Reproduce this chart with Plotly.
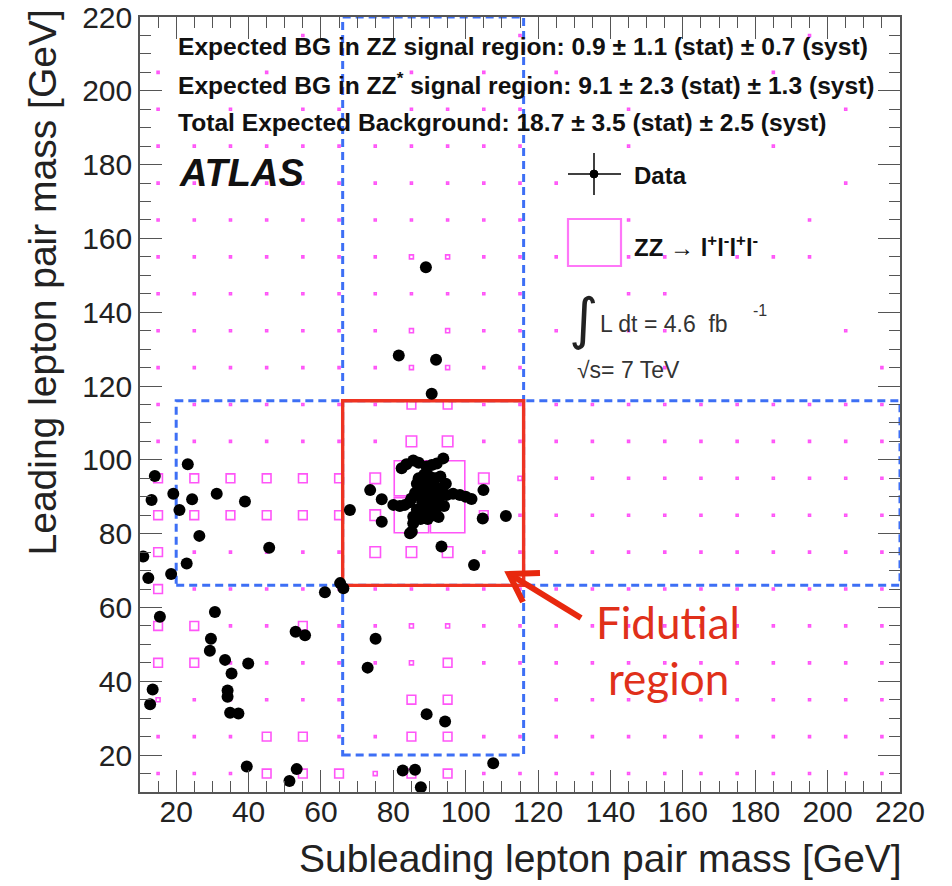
import plotly.graph_objects as go

# ---------------------------------------------------------------------------
# ZZ -> l+l-l+l- candidates: subleading (m34) vs leading (m12) pair mass, GeV
# ---------------------------------------------------------------------------
m34 = [89.0, 81.5, 91.8, 90.6,
       23.2, 14.1, 13.2, 19.2, 24.4, 20.9, 31.2, 39.0, 26.4, 45.7, 10.9, 22.9,
       12.3, 18.6, 30.7, 15.5, 65.3, 66.2, 61.1, 68.0, 53.0, 55.6, 29.6, 29.3,
       75.1, 33.5, 39.9, 35.3, 72.9, 34.2, 34.2, 34.9, 37.2, 13.5, 12.8, 89.2,
       94.3, 39.5, 53.3, 51.3, 82.6, 86.0, 87.6, 107.6, 104.9, 104.7, 111.1,
       93.3, 102.3, 73.6, 76.8, 76.8, 80.0, 81.8, 84.6,
       82.3, 83.6, 85.5, 87.0, 89.2, 90.6, 92.0, 93.8,
       86.5, 87.5, 88.5, 89.5, 90.5, 91.0, 92.0, 89.0, 90.0, 91.5, 92.5, 88.0,
       87.5, 89.0, 90.5, 92.0, 93.0, 88.0, 91.0, 89.5, 86.5, 93.5, 90.0, 88.5,
       91.5, 94.7, 96.5, 98.4, 100.0, 101.6, 85.5, 85.1, 85.5, 83.2, 84.5,
       87.0, 93.0, 94.5, 86.0, 85.0, 94.0, 87.5, 92.5]
m12 = [152.2, 128.3, 127.1, 117.9,
       98.8, 95.6, 89.1, 90.8, 89.3, 86.4, 90.8, 88.7, 79.4, 76.2, 73.8, 71.9,
       68.0, 69.1, 58.8, 57.5, 66.6, 65.2, 64.1, 86.4, 53.4, 52.5, 51.5, 48.3,
       51.5, 45.8, 44.8, 42.1, 43.7, 37.5, 35.8, 31.5, 31.3, 37.8, 33.8, 31.1,
       29.1, 16.9, 16.2, 13.0, 15.8, 16.0, 11.3, 17.8, 91.8, 84.1, 84.8,
       76.5, 71.5, 91.8, 89.3, 83.2, 87.8, 87.5, 80.1,
       97.7, 98.8, 99.8, 99.2, 98.2, 98.6, 99.0, 100.4,
       93.5, 92.0, 94.0, 92.5, 91.0, 93.5, 92.0, 90.0, 89.0, 90.0, 88.5, 88.5,
       90.5, 87.0, 86.5, 87.0, 90.5, 85.5, 85.0, 84.0, 86.5, 92.5, 95.5, 96.0,
       95.0, 90.5, 90.8, 90.5, 90.0, 89.4, 82.8, 80.5, 84.6, 87.8, 88.5,
       95.0, 95.5, 93.5, 91.0, 89.5, 87.5, 84.0, 84.5]

# ---------------------------------------------------------------------------
# ZZ Monte Carlo, 10 GeV bins.  One string per m12 row (215 at the top down
# to 15), one character per m34 bin (15 ... 215).
# '.' empty, '1'/'2' trace content, '3'/'4' visible box, '9' Z-peak bins
# ---------------------------------------------------------------------------
bin_centres = list(range(15, 220, 10))
zz_rows = [
    "....1.....1.......1..",   # 215
    "1..1...1.1.1.....1...",   # 205
    "1.1.11.1111..1.....1.",   # 195
    "11111111111..1...1...",   # 185
    "111111111111.......1.",   # 175
    "11111111111..1....1..",   # 165
    "111111122111.11.111..",   # 155
    "11111111111..11......",   # 145
    "111111122111.11....1.",   # 135
    "11111112211...1.....1",   # 125
    "111111133111111111111",   # 115
    "111111144111111111111",   # 105
    "333333499421111111111",   # 95
    "333333499311111111111",   # 85
    "311111444111111111111",   # 75
    "311111111111111111111",   # 65
    "331131122111111111111",   # 55
    "331111123111111111111",   # 45
    "211111.33..1111111111",   # 35
    "111331133111111111111",   # 25
    "111333233111111111111",   # 15
]
row_centres = list(range(215, 10, -10))
box_side = {"1": 0.55, "2": 1.1, "3": 2.4, "4": 2.9, "9": 9.5}   # GeV

# signal-region windows (GeV)
zz_window = (66, 116)
zz_star_low = 20
axis_range = (10, 220)

# ---------------------------------------------------------------------------
W, H = 952, 886
ML, MR, MT, MB = 140, 52, 17, 94
PW, PH = W - ML - MR, H - MT - MB


def px(x):
    return (x - ML) / PW


def py(y):
    return (H - MB - y) / PH


MAGENTA = "#ff55f8"
BLUE = "#3d6ff5"
RED = "#ee3322"
FONT = "Liberation Sans"

shapes = []

# MC boxes
for yc, row in zip(row_centres, zz_rows):
    for xc, code in zip(bin_centres, row):
        if code == ".":
            continue
        s = box_side[code] / 2
        shapes.append(dict(type="rect", xref="x", yref="y",
                           x0=xc - s, x1=xc + s, y0=yc - s, y1=yc + s,
                           line=dict(color=MAGENTA, width=1.6),
                           fillcolor="rgba(0,0,0,0)", layer="below"))

# dashed windows: ZZ* bands
lo, hi = zz_window
for (x0, x1, y0, y1) in [(lo, hi, zz_star_low, axis_range[1]),
                         (zz_star_low, axis_range[1], lo, hi)]:
    shapes.append(dict(type="rect", xref="x", yref="y",
                       x0=x0, x1=x1, y0=y0, y1=y1,
                       line=dict(color=BLUE, width=3, dash="8px,5px"),
                       fillcolor="rgba(0,0,0,0)", layer="below"))

# fiducial ZZ region
shapes.append(dict(type="rect", xref="x", yref="y",
                   x0=lo, x1=hi, y0=lo, y1=hi,
                   line=dict(color=RED, width=3.4),
                   fillcolor="rgba(0,0,0,0)", layer="below"))

# arrow pointing at the fiducial box
ARROW = "#e8280e"
shapes.append(dict(type="line", xref="paper", yref="paper",
                   x0=px(581), y0=py(618), x1=px(511), y1=py(575),
                   line=dict(color=ARROW, width=6), layer="above"))
shapes.append(dict(type="path", xref="paper", yref="paper",
                   path=f"M {px(540)},{py(573)} L {px(509)},{py(574)} L {px(523)},{py(602)}",
                   line=dict(color=ARROW, width=6), layer="above"))

# legend glyphs
shapes.append(dict(type="line", xref="paper", yref="paper",
                   x0=px(568), x1=px(621), y0=py(174), y1=py(174),
                   line=dict(color="black", width=1.5), layer="above"))
shapes.append(dict(type="line", xref="paper", yref="paper",
                   x0=px(594), x1=px(594), y0=py(153), y1=py(195),
                   line=dict(color="black", width=1.5), layer="above"))
shapes.append(dict(type="circle", xref="paper", yref="paper",
                   x0=px(590), x1=px(598), y0=py(170), y1=py(178),
                   line=dict(color="black", width=1), fillcolor="black",
                   layer="above"))
shapes.append(dict(type="rect", xref="paper", yref="paper",
                   x0=px(568), x1=px(621), y0=py(219), y1=py(266),
                   line=dict(color="#ff77f8", width=2.2),
                   fillcolor="rgba(0,0,0,0)", layer="above"))

fig = go.Figure()
fig.add_trace(go.Scatter(x=m34, y=m12, mode="markers",
                         marker=dict(color="black", size=12, line=dict(width=0)),
                         showlegend=False, hoverinfo="skip"))

annotations = []


def text(x, y, s, size, xanchor="left", color="#111", family=FONT, **kw):
    annotations.append(dict(xref="paper", yref="paper", x=px(x), y=py(y),
                            xanchor=xanchor, yanchor="middle", text=s,
                            showarrow=False,
                            font=dict(size=size, color=color, family=family),
                            **kw))


text(176, 46, "<b>Expected BG in ZZ signal region: 0.9 ± 1.1 (stat) ± 0.7 (syst)</b>", 24.6)
text(176, 84, "<b>Expected BG in ZZ<sup>*</sup> signal region: 9.1 ± 2.3 (stat) ± 1.3 (syst)</b>", 24.6)
text(176, 122, "<b>Total Expected Background: 18.7 ± 3.5 (stat) ± 2.5 (syst)</b>", 24.6)
text(177, 173, "<b><i>ATLAS</i></b>", 38)
text(632, 175, "<b>Data</b>", 24)
text(632, 246, "<b>ZZ</b> → <b>l<sup>+</sup>l<sup>-</sup>l<sup>+</sup>l<sup>-</sup></b>", 24)
text(583, 318, "∫", 56, xanchor="center", color="#222", family="DejaVu Sans")
text(598, 324, "L dt = 4.6  fb", 23, color="#333")
text(751, 310, "-1", 16, color="#333")
text(575, 370, "√s= 7 TeV", 23, color="#333")
text(668, 622, "Fidutial", 44, xanchor="center", color="#e0301a", family="Lato")
text(668, 678, "region", 44, xanchor="center", color="#e0301a", family="Lato")

# axis titles (ROOT style: aligned to the top/right end of the axis)
annotations.append(dict(xref="paper", yref="paper", x=px(904), y=py(858),
                        xanchor="right", yanchor="middle", showarrow=False,
                        text="Subleading lepton pair mass [GeV]",
                        font=dict(size=39, color="#222", family=FONT)))
annotations.append(dict(xref="paper", yref="paper", x=px(66), y=py(8),
                        xanchor="right", yanchor="top", showarrow=False,
                        textangle=-90,
                        text="Leading lepton pair mass [GeV]",
                        font=dict(size=39, color="#222", family=FONT)))

axis_common = dict(
    range=list(axis_range), showgrid=False, zeroline=False, automargin=False,
    showline=True, linecolor="#555", linewidth=1.6, mirror="allticks",
    ticks="inside", ticklen=22, tickwidth=1.4, tickcolor="#555",
    tick0=0, dtick=20,
    minor=dict(ticks="inside", ticklen=11, tickwidth=1.4, tickcolor="#555",
               tick0=0, dtick=5, showgrid=False),
    tickfont=dict(size=30, color="#222", family=FONT),
)

fig.update_layout(
    width=W, height=H,
    margin=dict(l=ML, r=MR, t=MT, b=MB, pad=0, autoexpand=False),
    paper_bgcolor="white", plot_bgcolor="white",
    xaxis=dict(**axis_common, ticklabelstandoff=-8),
    yaxis=dict(**axis_common),
    shapes=shapes, annotations=annotations,
    showlegend=False,
)

fig.write_html("out.html")
